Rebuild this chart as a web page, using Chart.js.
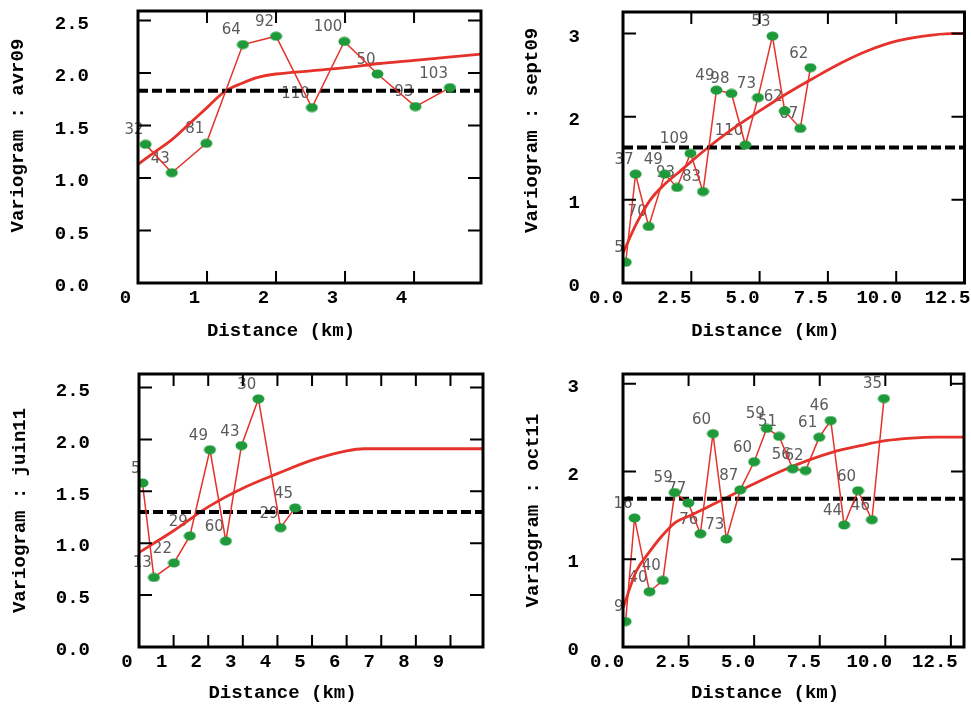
<!DOCTYPE html>
<html>
<head>
<meta charset="utf-8">
<script src="https://cdn.jsdelivr.net/npm/chart.js@4.4.1/dist/chart.umd.min.js"></script>
<style>
  body { margin: 0; background: #fff; width: 971px; height: 706px; position: relative; overflow: hidden; }
  .panel { position: absolute; }
</style>
</head>
<body>
<div class="panel" style="left:0;top:0"><canvas id="avr09" width="490" height="350"></canvas></div>
<div class="panel" style="left:490px;top:0"><canvas id="sept09" width="481" height="350"></canvas></div>
<div class="panel" style="left:0;top:350px"><canvas id="juin11" width="490" height="356"></canvas></div>
<div class="panel" style="left:490px;top:350px"><canvas id="oct11" width="481" height="356"></canvas></div>
<script>
// avr09
const avrDist  = [0.11, 0.49, 0.99, 1.52, 2.00, 2.52, 2.99, 3.47, 4.02, 4.52];
const avrGamma = [1.32, 1.05, 1.33, 2.27, 2.35, 1.67, 2.30, 1.99, 1.68, 1.86];
const avrPairs = ['32', '43', '81', '64', '92', '110', '100', '50', '93', '103'];
const avrModelDist = [0, 0.25, 0.5, 0.75, 1, 1.25, 1.5, 1.75, 2, 2.5, 3, 3.5, 4, 4.5, 4.97];
const avrModel     = [1.13, 1.25, 1.37, 1.52, 1.67, 1.82, 1.90, 1.96, 1.99, 2.02, 2.05, 2.09, 2.12, 2.15, 2.18];
const avrSill = 1.83;
const avrXTicks = [0, 1, 2, 3, 4];
const avrYTicks = [0, 0.5, 1, 1.5, 2, 2.5];

// sept09
const septDist  = [0.10, 0.46, 0.94, 1.53, 1.98, 2.47, 2.93, 3.42, 3.97, 4.48, 4.94, 5.47, 5.92, 6.49, 6.86];
const septGamma = [0.25, 1.31, 0.68, 1.31, 1.15, 1.56, 1.10, 2.32, 2.28, 1.66, 2.23, 2.97, 2.07, 1.86, 2.59];
const septPairs = ['5', '37', '70', '49', '93', '109', '83', '49', '98', '110', '73', '53', '62', '67', '62'];
const septModelDist = [0, 0.5, 1, 1.5, 2, 3, 4, 5, 6, 7, 8, 9, 10, 11, 12, 12.5];
const septModel     = [0.36, 0.72, 1.00, 1.18, 1.32, 1.60, 1.85, 2.07, 2.28, 2.47, 2.65, 2.80, 2.91, 2.97, 3.00, 3.00];
const septSill = 1.63;
const septXTicks = [0, 2.5, 5, 7.5, 10, 12.5];
const septYTicks = [0, 1, 2, 3];

// juin11
const juinDist  = [0.10, 0.43, 1.01, 1.47, 2.05, 2.51, 2.96, 3.45, 4.09, 4.51];
const juinGamma = [1.58, 0.67, 0.81, 1.07, 1.90, 1.02, 1.94, 2.39, 1.15, 1.34];
const juinPairs = ['5', '13', '22', '29', '49', '60', '43', '30', '29', '45'];
const juinModelDist = [0, 1, 2, 3, 4, 5, 6, 6.5, 7, 8, 9, 9.94];
const juinModel     = [0.91, 1.12, 1.35, 1.53, 1.67, 1.80, 1.89, 1.91, 1.91, 1.91, 1.91, 1.91];
const juinSill = 1.30;
const juinXTicks = [0, 1, 2, 3, 4, 5, 6, 7, 8, 9];
const juinYTicks = [0, 0.5, 1, 1.5, 2, 2.5];

// oct11
const octDist  = [0.10, 0.44, 1.01, 1.52, 1.97, 2.49, 2.95, 3.43, 3.94, 4.47, 5.00, 5.48, 5.95, 6.47, 6.96, 7.48, 7.92, 8.43, 8.96, 9.49, 9.95];
const octGamma = [0.29, 1.47, 0.63, 0.76, 1.76, 1.64, 1.29, 2.43, 1.23, 1.79, 2.11, 2.49, 2.40, 2.03, 2.01, 2.39, 2.58, 1.39, 1.78, 1.45, 2.83];
const octPairs = ['9', '16', '40', '40', '59', '77', '76', '60', '73', '87', '60', '59', '51', '56', '62', '61', '46', '44', '60', '46', '35'];
const octModelDist = [0, 0.5, 1, 1.5, 2, 2.5, 3, 4, 5, 6, 7, 8, 9, 10, 11, 12, 13];
const octModel     = [0.44, 0.86, 1.08, 1.27, 1.42, 1.49, 1.56, 1.71, 1.86, 2.00, 2.12, 2.22, 2.29, 2.35, 2.38, 2.39, 2.39];
const octSill = 1.69;
const octXTicks = [0, 2.5, 5, 7.5, 10, 12.5];
const octYTicks = [0, 1, 2, 3];

const RED = '#e5322b';
const GREEN = '#1f9a3a';

// green ellipse marker
const dot = document.createElement('canvas');
dot.width = 13; dot.height = 10;
const dctx = dot.getContext('2d');
dctx.fillStyle = GREEN;
dctx.beginPath();
dctx.ellipse(6.5, 5, 6, 4.5, 0, 0, Math.PI * 2);
dctx.fill();

const pts = (xs, ys) => xs.map((x, i) => ({ x: x, y: ys[i] }));

// frame, inward ticks and pair counts
const variogramFrame = {
  id: 'variogramFrame',
  beforeDatasetsDraw(chart) {
    const { ctx } = chart;
    const ds = chart.data.datasets[0];
    const meta = chart.getDatasetMeta(0);
    ctx.save();
    ctx.font = '15px "DejaVu Sans"';
    ctx.fillStyle = '#5a5a5a';
    ctx.textAlign = 'right';
    ctx.textBaseline = 'middle';
    meta.data.forEach((p, i) => ctx.fillText(ds.pairs[i], p.x - 2, p.y - 14));
    ctx.restore();
  },
  afterDraw(chart) {
    const { ctx, chartArea: a, scales } = chart;
    ctx.save();
    ctx.strokeStyle = '#000';
    ctx.lineWidth = 2;
    ctx.beginPath();
    scales.x.ticks.forEach(t => {
      const px = scales.x.getPixelForValue(t.value);
      ctx.moveTo(px, a.bottom); ctx.lineTo(px, a.bottom - 12);
      ctx.moveTo(px, a.top); ctx.lineTo(px, a.top + 12);
    });
    scales.y.ticks.forEach(t => {
      const py = scales.y.getPixelForValue(t.value);
      ctx.moveTo(a.left, py); ctx.lineTo(a.left + 13, py);
      ctx.moveTo(a.right, py); ctx.lineTo(a.right - 13, py);
    });
    ctx.stroke();
    ctx.lineWidth = 3;
    ctx.strokeRect(a.left, a.top, a.right - a.left, a.bottom - a.top);
    ctx.restore();
  }
};

const tickFont = { family: '"Liberation Mono"', size: 19, weight: 'bold' };

function createPanel(id, p) {
  const ctx = document.getElementById(id);
  return new Chart(ctx, {
    type: 'scatter',
    data: {
      datasets: [
        {
          data: pts(p.dist, p.gamma),
          pairs: p.pairs,
          showLine: true,
          borderColor: RED,
          borderWidth: 1.5,
          pointStyle: dot,
          pointRadius: 5
        },
        {
          data: [{ x: p.xMin, y: p.sill }, { x: p.xMax, y: p.sill }],
          showLine: true,
          borderColor: '#000',
          borderWidth: 4,
          borderDash: [10, 4],
          pointRadius: 0
        },
        {
          data: pts(p.modelDist, p.model),
          showLine: true,
          borderColor: RED,
          borderWidth: 2.8,
          cubicInterpolationMode: 'monotone',
          pointRadius: 0
        }
      ]
    },
    options: {
      responsive: false,
      animation: false,
      events: [],
      layout: { padding: { top: p.padTop, right: p.padRight, left: 0, bottom: 0 } },
      plugins: {
        legend: { display: false },
        tooltip: { enabled: false }
      },
      scales: {
        x: {
          type: 'linear',
          min: p.xMin,
          max: p.xMax,
          afterBuildTicks: s => { s.ticks = p.xTicks.map(v => ({ value: v })); },
          afterFit: s => { s.height = p.xAxisH; s.paddingLeft = 0; s.paddingRight = 0; },
          grid: { display: false, drawTicks: false },
          border: { display: false },
          ticks: {
            autoSkip: false,
            maxRotation: 0,
            padding: 4,
            labelOffset: p.xLabelOffset,
            color: '#000',
            font: tickFont,
            callback: v => v.toFixed(p.xDigits)
          },
          title: {
            display: true,
            text: 'Distance (km)     ',
            color: '#000',
            font: tickFont,
            padding: { top: 0, bottom: p.xTitlePad }
          }
        },
        y: {
          min: 0,
          max: p.yMax,
          afterBuildTicks: s => { s.ticks = p.yTicks.map(v => ({ value: v })); },
          afterFit: s => { s.width = p.yAxisW; s.paddingTop = 0; s.paddingBottom = 0; },
          grid: { display: false, drawTicks: false },
          border: { display: false },
          ticks: {
            autoSkip: false,
            padding: p.yTickPad,
            labelOffset: 3.5,
            color: '#000',
            font: tickFont,
            callback: v => v.toFixed(p.yDigits)
          },
          title: {
            display: true,
            text: p.yTitleLead + 'Variogram : ' + id,
            color: '#000',
            font: tickFont,
            padding: { top: p.yTitlePad, bottom: 0 }
          }
        }
      }
    },
    plugins: [variogramFrame]
  });
}

createPanel('avr09', {
  dist: avrDist, gamma: avrGamma, pairs: avrPairs, modelDist: avrModelDist, model: avrModel, sill: avrSill,
  xTicks: avrXTicks, yTicks: avrYTicks, xMin: 0, xMax: 4.97, yMax: 2.59, xDigits: 0, yDigits: 1,
  padTop: 11, padRight: 9, xAxisH: 67, yAxisW: 138, xLabelOffset: -12.5, yTickPad: 49, xTitlePad: 7.6, yTitlePad: 6.6,
  yTitleLead: '  '
});
createPanel('sept09', {
  dist: septDist, gamma: septGamma, pairs: septPairs, modelDist: septModelDist, model: septModel, sill: septSill,
  xTicks: septXTicks, yTicks: septYTicks, xMin: 0, xMax: 12.5, yMax: 3.26, xDigits: 1, yDigits: 0,
  padTop: 12, padRight: 6, xAxisH: 67, yAxisW: 133, xLabelOffset: -17, yTickPad: 43, xTitlePad: 7.6, yTitlePad: 30.6,
  yTitleLead: '   '
});
createPanel('juin11', {
  dist: juinDist, gamma: juinGamma, pairs: juinPairs, modelDist: juinModelDist, model: juinModel, sill: juinSill,
  xTicks: juinXTicks, yTicks: juinYTicks, xMin: 0, xMax: 9.94, yMax: 2.63, xDigits: 0, yDigits: 1,
  padTop: 24, padRight: 7, xAxisH: 59, yAxisW: 139, xLabelOffset: -12, yTickPad: 49, xTitlePad: 1.6, yTitlePad: 8.6,
  yTitleLead: ''
});
createPanel('oct11', {
  dist: octDist, gamma: octGamma, pairs: octPairs, modelDist: octModelDist, model: octModel, sill: octSill,
  xTicks: octXTicks, yTicks: octYTicks, xMin: 0, xMax: 13, yMax: 3.11, xDigits: 1, yDigits: 0,
  padTop: 24, padRight: 7, xAxisH: 59, yAxisW: 133, xLabelOffset: -16, yTickPad: 44, xTitlePad: 1.6, yTitlePad: 31.6,
  yTitleLead: ''
});
</script>
</body>
</html>
